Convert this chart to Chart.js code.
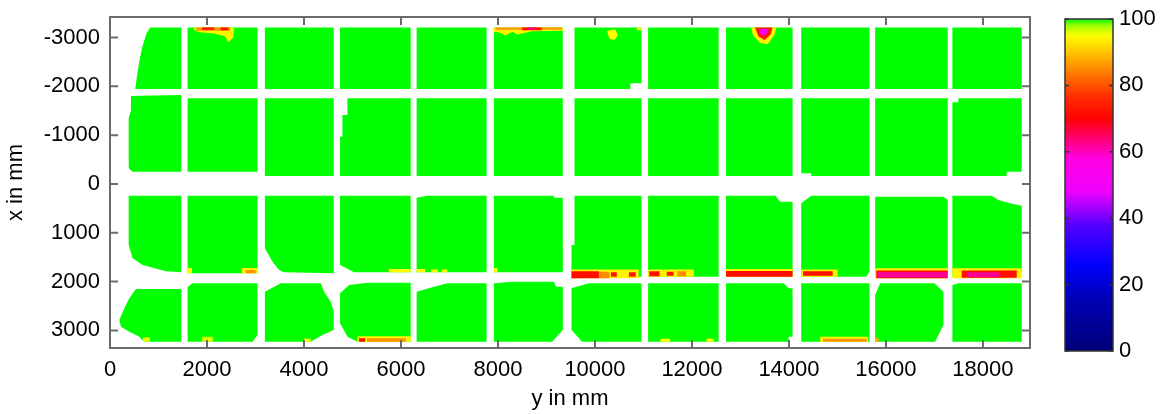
<!DOCTYPE html>
<html>
<head>
<meta charset="utf-8">
<script src="https://cdn.jsdelivr.net/npm/chart.js@4"></script>
<style>
  body { margin: 0; background: #fff; }
  #wrap { position: relative; width: 1166px; height: 414px; }
  #map { position: absolute; left: 0; top: 0; }
  #bar { position: absolute; left: 1040px; top: 0; }
</style>
</head>
<body>
<div id="wrap">
  <canvas id="map" width="1040" height="414"></canvas>
  <canvas id="bar" width="126" height="414"></canvas>
</div>
<script>
// tile grid: column extent along "y in mm", row extent along "x in mm"
const colY = [[515,1469],[1600,3042],[3193,4614],[4744,6200],[6323,7765],[7916,9336],
              [9578,10958],[11096,12550],[12702,14074],[14253,15660],[15777,17275],[17370,18799]];
const rowX = [[-3203,-1947],[-1756,-164],[240,1830],[2035,3231]];
const tileValue = 100;

// tiles whose outline is not a plain rectangle, [y, x] in mm, key "row,col"
const tileOutlines = {
  '0,0': [[830,-3203],[1469,-3203],[1469,-1947],[521,-1947],[556,-2199],[604,-2506],[659,-2787],[756,-3094]],
  '1,0': [[432,-1803],[1469,-1824],[1469,-252],[467,-252],[400,-300],[385,-354],[385,-1352],[432,-1500]],
  '2,0': [[385,240],[1469,240],[1469,1809],[1153,1790],[671,1660],[467,1522],[385,1250]],
  '3,0': [[536,2151],[1469,2151],[1469,3231],[700,3231],[604,3129],[398,3026],[227,2924],[192,2787],[295,2547],[398,2342]],
  '1,1': [[1600,-1756],[3042,-1756],[3042,-252],[1600,-252]],
  '3,1': [[1600,2110],[1700,2035],[3042,2035],[3042,3094],[2939,3231],[1600,3231]],
  '2,2': [[3193,240],[4614,240],[4614,1830],[3584,1809],[3487,1762],[3351,1592],[3193,1318]],
  '3,2': [[3193,2207],[3522,2035],[4346,2035],[4414,2207],[4552,2412],[4614,2617],[4614,2992],[4381,3094],[4140,3231],[3193,3231]],
  '1,3': [[4896,-1756],[6200,-1756],[6200,-164],[4744,-164],[4744,-969],[4792,-969],[4792,-1414],[4896,-1414]],
  '2,3': [[4744,240],[6200,240],[6200,1809],[5032,1809],[4744,1660]],
  '3,3': [[4744,2240],[4929,2070],[5308,2022],[6200,2022],[6200,3231],[5102,3231],[4896,3129],[4744,2854]],
  '2,4': [[6323,281],[6540,240],[7765,240],[7765,1809],[6323,1809]],
  '3,4': [[6323,2207],[6680,2104],[6956,2035],[7765,2035],[7765,3231],[6323,3231]],
  '2,5': [[7916,240],[9151,240],[9151,281],[9336,281],[9336,1809],[7916,1809]],
  '3,5': [[7916,2035],[8294,2002],[9151,2002],[9200,2104],[9336,2104],[9336,2992],[9118,3231],[7916,3231]],
  '0,6': [[9578,-3203],[10958,-3203],[10958,-2063],[10731,-2063],[10731,-1947],[9578,-1947]],
  '2,6': [[9578,240],[10958,240],[10958,1899],[9516,1932],[9516,1250],[9578,1250]],
  '3,6': [[9516,2137],[9872,2035],[10958,2035],[10958,3231],[9736,3231],[9516,2992]],
  '2,7': [[11096,240],[12550,240],[12550,1899],[11096,1899]],
  '2,8': [[12702,240],[13718,240],[13821,363],[14074,363],[14074,1899],[12702,1899]],
  '3,8': [[12702,2035],[13889,2035],[13992,2137],[14074,2137],[14074,3129],[13992,3129],[13992,3231],[12702,3231]],
  '1,9': [[14253,-1756],[15660,-1756],[15660,-164],[14459,-164],[14459,-219],[14253,-219]],
  '2,9': [[14253,395],[14459,240],[15660,240],[15660,1797],[15590,1899],[14253,1899]],
  '2,10': [[15777,260],[17184,260],[17275,330],[17275,1899],[15777,1899]],
  '3,10': [[15777,2274],[15880,2035],[17000,2035],[17184,2207],[17184,2889],[17013,3231],[15777,3231]],
  '1,11': [[17370,-1674],[17493,-1674],[17493,-1756],[18799,-1756],[18799,-252],[18490,-252],[18490,-164],[17370,-164]],
  '2,11': [[17370,240],[18181,240],[18318,328],[18558,395],[18799,445],[18799,1797],[18700,1899],[17370,1899]],
  '3,11': [[17370,2070],[17493,2035],[18799,2035],[18799,3231],[17370,3231]]
};

// low-value spots: [value, y0, x0, y1, x1]
const defectRects = [
  [86, 1780,-3203, 2480,-3140], [72, 1900,-3203, 2150,-3160], [72, 2280,-3203, 2440,-3150],
  [86, 7950,-3203, 9320,-3160], [72, 8500,-3203, 8900,-3150], [62, 8620,-3203, 8780,-3170],
  [95, 10860,-3203, 10950,-3150],
  [95, 1600,1720, 1690,1830], [94, 2720,1720, 3042,1830], [86, 2800,1760, 3000,1830],
  [95, 5750,1740, 6200,1809], [95, 6323,1740, 6500,1809], [95, 6620,1750, 6760,1809], [95, 6840,1750, 6956,1809],
  [95, 7916,1720, 7990,1809],
  [96, 680,3140, 820,3231], [96, 1900,3130, 2120,3231], [95, 4000,3170, 4140,3231],
  [94, 5100,3120, 6200,3231], [86, 5300,3160, 6100,3231], [72, 5135,3160, 5260,3231],
  [94, 9516,1750, 10900,1932], [72, 9516,1790, 10080,1932], [85, 10080,1800, 10300,1932],
  [73, 10330,1810, 10450,1900], [73, 10700,1810, 10840,1900],
  [94, 11096,1750, 12035,1900], [72, 11120,1790, 11330,1890], [73, 11480,1800, 11620,1880], [85, 11700,1790, 11880,1890],
  [94, 12702,1740, 14074,1906], [72, 12702,1785, 14074,1900],
  [94, 14253,1750, 15000,1899], [72, 14290,1790, 14900,1880],
  [94, 15777,1727, 17275,1932], [72, 15800,1770, 17275,1932], [62, 15830,1805, 17260,1918],
  [94, 17370,1727, 18799,1932], [72, 17562,1770, 18696,1920], [62, 17665,1810, 18351,1910],
  [95, 11350,3170, 11550,3231], [95, 12300,3170, 12450,3231],
  [94, 14644,3130, 15632,3231], [86, 14700,3170, 15600,3231],
  [88, 15777,3150, 15850,3231]
];

// irregular spots
const defectBlobs = [
  {v: 94, pts: [[1736,-3203],[2560,-3203],[2540,-3000],[2440,-2900],[2380,-3020],[2150,-3080],[1850,-3110],[1736,-3150]]},
  {v: 94, pts: [[7916,-3203],[9336,-3203],[9336,-3140],[8700,-3130],[8400,-3060],[8300,-3120],[8150,-3040],[8020,-3110],[7916,-3110]]},
  {v: 95, pts: [[10250,-3140],[10420,-3170],[10470,-3040],[10400,-2950],[10290,-2980]]},
  {v: 94, pts: [[13220,-3203],[13740,-3203],[13700,-3050],[13560,-2860],[13400,-2890],[13260,-3040]]},
  {v: 73, pts: [[13300,-3203],[13660,-3203],[13620,-3060],[13500,-2950],[13370,-3020]]},
  {v: 52, pts: [[13380,-3180],[13580,-3180],[13560,-3090],[13470,-3030],[13410,-3080]]}
];

// axis ticks
const xTicks = [0, 2000, 4000, 6000, 8000, 10000, 12000, 14000, 16000, 18000];
const yTicks = [-3000, -2000, -1000, 0, 1000, 2000, 3000];

// colour scale
const cmapStops  = [0, 16, 26, 38, 48, 58, 70, 77, 84, 91, 95, 98, 100];
const cmapColors = ['#000078','#0000b8','#0000ff','#5500ff','#ee00ff','#ff00e0','#ff0000',
                    '#ff3000','#ff7f00','#ffd000','#ffff00','#a0ff00','#00ff00'];
const barTicks = [0, 20, 40, 60, 80, 100];

const FONT = { family: "'Liberation Sans', Arial, sans-serif", size: 22 };

function hexRgb(h) {
    return [1, 3, 5].map(i => parseInt(h.slice(i, i + 2), 16));
}

function cmap(v) {
    for (let i = 1; i < cmapStops.length; i++) {
        if (v <= cmapStops[i]) {
            const t = (v - cmapStops[i - 1]) / (cmapStops[i] - cmapStops[i - 1]);
            const a = hexRgb(cmapColors[i - 1]), b = hexRgb(cmapColors[i]);
            const c = a.map((x, k) => Math.round(x + (b[k] - x) * t));
            return `rgb(${c[0]},${c[1]},${c[2]})`;
        }
    }
    return cmapColors[cmapColors.length - 1];
}

function polygon(pts, v, order) {
    return {
        data: pts.map(p => ({ x: p[0], y: p[1] })),
        fill: 'shape',
        backgroundColor: cmap(v),
        borderColor: 'transparent',
        borderWidth: 0,
        pointRadius: 0,
        order: order
    };
}

// fixed axis box, no label overflow padding
function fixBox(size) {
    return s => {
        if (s.isHorizontal()) s.height = size; else s.width = size;
        s.paddingTop = s.paddingBottom = s.paddingLeft = s.paddingRight = 0;
    };
}

const datasets = [];
rowX.forEach((rx, r) => colY.forEach((cy, c) => {
    const pts = tileOutlines[r + ',' + c] ||
        [[cy[0], rx[0]], [cy[1], rx[0]], [cy[1], rx[1]], [cy[0], rx[1]]];
    datasets.push(polygon(pts, tileValue, 200));
}));
defectRects.forEach(([v, y0, x0, y1, x1]) => {
    datasets.push(polygon([[y0, x0], [y1, x0], [y1, x1], [y0, x1]], v, v));
});
defectBlobs.forEach(b => datasets.push(polygon(b.pts, b.v, b.v)));

// box round the plot with inward tick marks, MATLAB style
const frame = {
    id: 'frame',
    afterDraw(chart) {
        const { ctx, chartArea: a, scales: { x, y } } = chart;
        ctx.save();
        ctx.strokeStyle = '#6a6a6a';
        ctx.lineWidth = 2;
        ctx.strokeRect(a.left, a.top, a.right - a.left, a.bottom - a.top);
        ctx.beginPath();
        x.ticks.forEach(t => {
            const px = x.getPixelForValue(t.value);
            ctx.moveTo(px, a.bottom); ctx.lineTo(px, a.bottom - 8);
            ctx.moveTo(px, a.top); ctx.lineTo(px, a.top + 8);
        });
        y.ticks.forEach(t => {
            const py = y.getPixelForValue(t.value);
            ctx.moveTo(a.left, py); ctx.lineTo(a.left + 8, py);
            ctx.moveTo(a.right, py); ctx.lineTo(a.right - 8, py);
        });
        ctx.stroke();
        ctx.restore();
    }
};

new Chart(document.getElementById('map'), {
    type: 'line',
    data: { datasets: datasets },
    plugins: [frame],
    options: {
        responsive: false,
        animation: false,
        events: [],
        layout: { padding: { top: 17, right: 10, left: 0, bottom: 0 } },
        plugins: { legend: { display: false }, tooltip: { enabled: false } },
        scales: {
            x: {
                type: 'linear',
                min: 0,
                max: 18970,
                afterBuildTicks: s => { s.ticks = xTicks.map(v => ({ value: v })); },
                afterFit: fixBox(66),
                grid: { display: false, drawTicks: false },
                border: { display: false },
                ticks: { padding: 9, color: '#000', font: FONT, maxRotation: 0, autoSkip: false,
                         callback: v => String(v) },
                title: { display: true, text: 'y in mm', color: '#000', font: FONT, padding: { top: 0, bottom: 2 } }
            },
            y: {
                type: 'linear',
                reverse: true,
                min: -3420,
                max: 3360,
                afterBuildTicks: s => { s.ticks = yTicks.map(v => ({ value: v })); },
                afterFit: fixBox(110),
                grid: { display: false, drawTicks: false },
                border: { display: false },
                ticks: { padding: 10, color: '#000', font: FONT, autoSkip: false,
                         callback: v => String(v) },
                title: { display: true, text: 'x in mm', color: '#000', font: FONT, padding: { top: 3, bottom: 0 } }
            }
        }
    }
});

// colour bar
const barFrame = {
    id: 'barFrame',
    afterDraw(chart) {
        const { ctx, chartArea: a, scales: { y } } = chart;
        ctx.save();
        ctx.strokeStyle = '#333';
        ctx.lineWidth = 1.5;
        ctx.strokeRect(a.left, a.top, a.right - a.left, a.bottom - a.top);
        ctx.beginPath();
        y.ticks.forEach(t => {
            const py = y.getPixelForValue(t.value);
            ctx.moveTo(a.left, py); ctx.lineTo(a.left + 4, py);
            ctx.moveTo(a.right, py); ctx.lineTo(a.right - 4, py);
        });
        ctx.stroke();
        ctx.restore();
    }
};

new Chart(document.getElementById('bar'), {
    type: 'bar',
    data: {
        labels: [''],
        datasets: [{
            data: [100],
            borderWidth: 0,
            barPercentage: 1,
            categoryPercentage: 1,
            backgroundColor: c => {
                const a = c.chart.chartArea;
                if (!a) return cmap(100);
                const g = c.chart.ctx.createLinearGradient(0, a.bottom, 0, a.top);
                cmapStops.forEach((s, i) => g.addColorStop(s / 100, cmapColors[i]));
                return g;
            }
        }]
    },
    plugins: [barFrame],
    options: {
        responsive: false,
        animation: false,
        events: [],
        layout: { padding: { top: 19, left: 25, right: 0, bottom: 63 } },
        plugins: { legend: { display: false }, tooltip: { enabled: false } },
        scales: {
            x: { display: false },
            y: {
                position: 'right',
                min: 0,
                max: 100,
                afterBuildTicks: s => { s.ticks = barTicks.map(v => ({ value: v })); },
                afterFit: fixBox(53),
                grid: { display: false, drawTicks: false },
                border: { display: false },
                ticks: { padding: 6, color: '#000', font: FONT }
            }
        }
    }
});
</script>
</body>
</html>
